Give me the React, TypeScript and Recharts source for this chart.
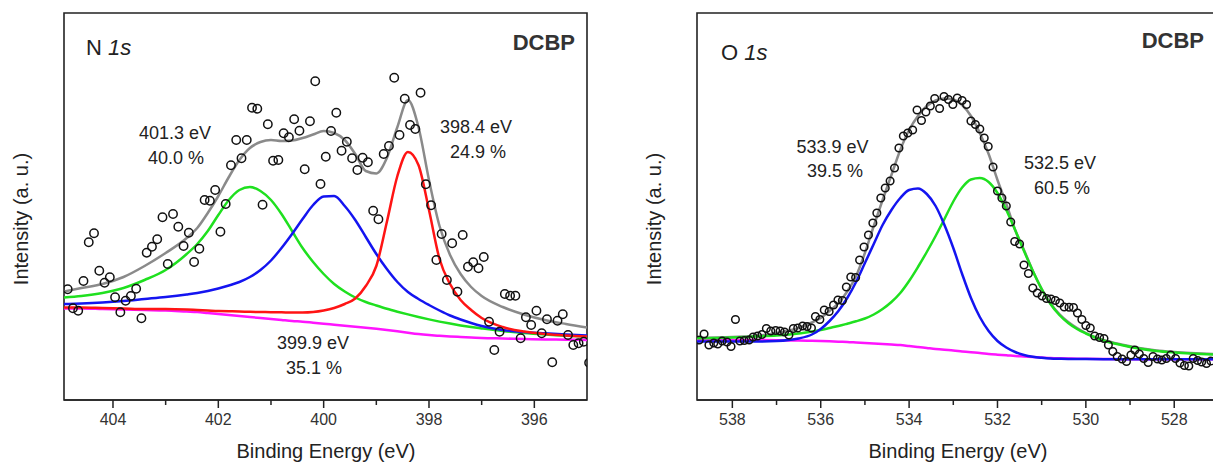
import React from 'react';
import { ComposedChart, Line, Scatter, XAxis, YAxis, ReferenceArea } from 'recharts';

const FONT = "'Liberation Sans', Arial, Helvetica, sans-serif";
const AXIS = '#222';
const C_ENV = '#8a8a8a';
const C_GREEN = '#1fe01f';
const C_BLUE = '#1414f0';
const C_RED = '#ff1414';
const C_MAG = '#ff14ff';

// ---------------- N 1s ----------------
const n1sPointEnergy = [
  404.86, 404.76, 404.66, 404.56, 404.46, 404.36, 404.26, 404.16, 404.06, 403.96,
  403.86, 403.76, 403.66, 403.56, 403.46, 403.36, 403.26, 403.16, 403.06, 402.96,
  402.86, 402.76, 402.66, 402.56, 402.46, 402.36, 402.26, 402.16, 402.06, 401.96,
  401.86, 401.76, 401.66, 401.56, 401.46, 401.36, 401.26, 401.16, 401.06, 400.96,
  400.86, 400.76, 400.66, 400.56, 400.46, 400.36, 400.26, 400.16, 400.06, 399.96,
  399.86, 399.76, 399.66, 399.56, 399.46, 399.36, 399.26, 399.16, 399.06, 398.96,
  398.86, 398.76, 398.66, 398.56, 398.46, 398.36, 398.26, 398.16, 398.06, 397.96,
  397.86, 397.76, 397.66, 397.56, 397.46, 397.36, 397.26, 397.16, 397.06, 396.96,
  396.86, 396.76, 396.66, 396.56, 396.46, 396.36, 396.26, 396.16, 396.06, 395.96,
  395.86, 395.76, 395.66, 395.56, 395.46, 395.36, 395.26, 395.16, 395.06, 394.96,
];
const n1sPointCounts = [
  110.7, 91.7, 89.3, 119, 157.7, 166.7, 129.3, 117.3, 122.7, 102.7,
  87.7, 99.3, 104, 111.3, 81.7, 147.3, 153.3, 160.7, 182.7, 136,
  186, 173.3, 154, 167.3, 138, 151.3, 200, 199.3, 210, 168.3,
  196, 234.7, 260, 241.7, 260, 292.3, 291.3, 195.3, 275.7, 239.3,
  240, 266.7, 262.7, 280.7, 269.3, 230.7, 278.7, 318.7, 216, 243.3,
  269, 287.3, 249.3, 258.3, 241.7, 230, 242.3, 237.7, 189.3, 180.7,
  246, 254, 322.3, 265, 301.3, 275, 271, 307.3, 215.7, 194.7,
  140, 166, 120, 156.7, 108.3, 165, 133.3, 137.7, 131.7, 143,
  78.3, 50, 68.3, 106, 104.3, 104.3, 61.7, 82.7, 75, 89.3,
  66.7, 80.7, 37.7, 79.3, 85.7, 65, 55, 56.7, 58.3, 37.3,
];
const n1sFitEnergy = [
  404.93, 404.6, 404.2, 403.8, 403.4, 403.0, 402.6, 402.4, 402.2, 402.0,
  401.8, 401.6, 401.4, 401.2, 401.0, 400.8, 400.6, 400.4, 400.2, 400.0,
  399.8, 399.6, 399.4, 399.2, 399.0, 398.8, 398.6, 398.4, 398.2, 398.0,
  397.8, 397.6, 397.4, 397.2, 397.0, 396.6, 396.2, 395.8, 395.4, 395.0,
];
const n1sEnvelope = [
  108.5, 112, 116, 123, 134, 147, 162, 172, 187, 204,
  223, 240, 252, 258, 260, 259, 259.5, 262, 265.5, 269,
  267, 260, 246, 229, 226.5, 242, 273, 300, 273, 220,
  174, 145, 126, 113, 104, 93, 85.5, 80, 76, 72.5,
];
const n1sPeak4013 = [
  102.5, 104, 107, 112, 120, 130, 146, 156, 169, 185,
  200, 210, 213, 209, 200, 186, 169, 152, 138, 126,
  116, 108.5, 102.5, 98, 94.5, 91.2, 88.3, 85.6, 83, 80.6,
  78.4, 76.4, 74.6, 73, 71.6, 69, 67, 65.5, 64.3, 63.5,
];
const n1sPeak3999 = [
  96, 96.5, 97.5, 99, 101, 103, 105.5, 107, 109, 111.5,
  114.5, 118, 123, 130, 139.5, 152, 166, 181, 195, 203.5,
  204, 194, 180, 163, 146, 131, 118, 108, 101, 95,
  89.5, 84.5, 80.5, 77, 74, 70, 68, 66.7, 65.5, 64.5,
];
const n1sPeak3984 = [
  92.5, 92.5, 92, 91.5, 91, 91, 90.5, 90, 89.5, 89,
  88.7, 88.5, 88.2, 88, 87.8, 87.7, 87.5, 87.5, 88, 89.5,
  92, 96, 101.5, 114, 134, 178, 224, 248, 235, 190,
  141, 116, 100, 90, 82, 73, 68.5, 66, 64.5, 63.5,
];
const n1sBackground = [
  91.5, 91.5, 91, 90.5, 90, 89.5, 88.5, 88, 87, 86,
  85, 84, 83, 82, 81, 80, 79, 78.3, 77.3, 76.3,
  75.3, 74.3, 73.3, 72.3, 71.2, 70, 68.7, 67.3, 66, 65,
  64.2, 63.5, 63, 62.5, 62, 61.5, 61, 60.5, 60.3, 60,
];
const n1sTicks = [396, 397, 398, 399, 400, 401, 402, 403, 404];

// ---------------- O 1s ----------------
const o1sPointEnergy = [
  538.75, 538.64, 538.53, 538.42, 538.33, 538.23, 538.12, 538.03, 537.93, 537.83,
  537.73, 537.62, 537.53, 537.43, 537.33, 537.23, 537.13, 537.02, 536.92, 536.82,
  536.72, 536.62, 536.52, 536.41, 536.31, 536.21, 536.12, 536.02, 535.92, 535.81,
  535.71, 535.61, 535.51, 535.42, 535.32, 535.21, 535.12, 535.02, 534.92, 534.82,
  534.73, 534.64, 534.54, 534.43, 534.33, 534.23, 534.13, 534.03, 533.92, 533.82,
  533.72, 533.62, 533.52, 533.42, 533.31, 533.21, 533.11, 533.01, 532.91, 532.8,
  532.7, 532.6, 532.5, 532.4, 532.3, 532.21, 532.1, 532.0, 531.9, 531.8,
  531.7, 531.61, 531.5, 531.4, 531.3, 531.2, 531.1, 530.99, 530.89, 530.79,
  530.69, 530.59, 530.49, 530.38, 530.28, 530.19, 530.09, 530.0, 529.9, 529.8,
  529.69, 529.59, 529.49, 529.39, 529.29, 529.18, 529.08, 528.98, 528.89, 528.79,
  528.69, 528.59, 528.48, 528.38, 528.28, 528.18, 528.08, 527.97, 527.87, 527.77,
  527.67, 527.57, 527.47, 527.38, 527.27, 527.17,
];
const o1sPointCounts = [
  60, 66, 55, 57, 56, 59, 58, 53.5, 80.5, 59,
  59.5, 60, 63, 64, 65.5, 71.5, 69, 69.5, 69, 68,
  65, 71.5, 72, 74, 73.5, 72, 83.5, 80.5, 90, 88.5,
  95, 100, 99.5, 113, 123, 122.5, 140, 153, 165, 177,
  187, 202, 212, 219, 232, 252, 264, 267, 270, 290,
  279.5, 288, 294, 301.5, 291.5, 303.5, 300.5, 295.5, 302, 299.5,
  295.5, 279, 275.5, 271, 262, 253.5, 233, 209, 202, 194,
  178, 158.5, 156, 135, 126.5, 112, 107, 104, 101.5, 101,
  99.5, 97, 93, 92.7, 92.5, 87, 80.5, 74.5, 72, 64,
  62.5, 61.5, 55, 48.5, 43.5, 41, 38.5, 45, 50, 46,
  41.5, 37.5, 43.5, 41, 40, 41.5, 45, 41.5, 37, 34.5,
  34, 41.5, 39.5, 38, 36.5, 39,
];
const o1sFitEnergy = [
  538.8, 538.0, 537.5, 537.0, 536.5, 536.2, 536.0, 535.8, 535.6, 535.4,
  535.2, 535.0, 534.8, 534.6, 534.4, 534.2, 534.0, 533.8, 533.6, 533.4,
  533.2, 533.0, 532.8, 532.6, 532.4, 532.2, 532.0, 531.8, 531.6, 531.4,
  531.2, 531.0, 530.8, 530.6, 530.4, 530.2, 530.0, 529.6, 529.2, 528.8,
  528.4, 528.0, 527.1,
];
const o1sEnvelope = [
  62, 63, 64, 67, 72, 77.5, 82, 89, 97, 108.5,
  124, 147, 174, 200, 225, 250, 270, 284, 294, 299.5,
  301.5, 300.5, 295, 284, 267, 246, 220, 196, 170, 150,
  129, 111, 96.5, 86, 78, 72, 67, 60, 55.5, 52,
  49.5, 48, 46,
];
const o1sPeak5325 = [
  61.7, 62.5, 63.5, 64.5, 66.5, 68.5, 70, 72, 74, 76.3,
  78.7, 81.5, 85.5, 91, 98, 107, 119, 133, 148, 164,
  181, 198.5, 212.5, 220.5, 222, 218, 207, 190, 170, 149,
  129, 111, 96, 85, 77, 71, 66.5, 59.5, 55, 51.5,
  49, 47.5, 45.5,
];
const o1sPeak5339 = [
  58.5, 58.5, 58.5, 59, 61.5, 65.5, 71, 79, 89, 102,
  118, 137, 156, 175, 190, 202, 210, 211.5, 206, 194,
  175, 152, 126, 102, 83, 69, 59, 52.5, 48, 45,
  43.2, 42.2, 41.5, 41.2, 41, 41, 40.9, 40.8, 40.7, 40.7,
  40.7, 40.7, 40.7,
];
const o1sBackground = [
  60, 60, 60, 59.8, 59.5, 59.2, 59, 58.7, 58.3, 58,
  57.5, 57, 56.5, 56, 55.5, 55, 54, 53, 52, 51,
  50.2, 49.5, 48.5, 47.7, 47, 46, 45.3, 44.7, 44, 43.5,
  43, 42.5, 42, 41.7, 41.5, 41.3, 41.2, 41, 40.8, 40.8,
  40.8, 40.8, 40.8,
];
const o1sTicks = [528, 529, 530, 531, 532, 533, 534, 535, 536, 537, 538];

const zip = (xs: number[], ys: number[]) => xs.map((E, i) => ({ E, I: ys[i] }));

const BottomTick = (props: any) => {
  const { x, y, payload } = props;
  const major = Math.round(payload.value) % 2 === 0;
  return (
    <g>
      <line x1={x} x2={x} y1={y} y2={y + (major ? 8 : 5)} stroke={AXIS} strokeWidth={1.5} />
      {major && (
        <text x={x} y={y + 25} textAnchor="middle" fontSize={16} fill="#333" fontFamily={FONT}>
          {payload.value}
        </text>
      )}
    </g>
  );
};

const makeCircle = (r: number) => (p: any) => (
  <circle cx={p.cx} cy={p.cy} r={r} fill="none" stroke="#111" strokeWidth={1.5} />
);

type Pt = { E: number; I: number };
type PanelProps = {
  left: number;
  width: number;
  marginLeft: number;
  marginRight: number;
  domain: [number, number];
  ticks: number[];
  points: Pt[];
  env: Pt[];
  greenPk: Pt[];
  bluePk: Pt[];
  redPk?: Pt[];
  bg: Pt[];
  r: number;
};

function Panel(p: PanelProps) {
  const lw = 2.5;
  return (
    <div style={{ position: 'absolute', left: p.left, top: 0 }}>
      <ComposedChart
        width={p.width}
        height={463}
        margin={{ top: 13, right: p.marginRight, left: p.marginLeft, bottom: 0 }}
      >
        <XAxis
          dataKey="E"
          type="number"
          domain={p.domain}
          reversed
          allowDataOverflow
          ticks={p.ticks}
          interval={0}
          tick={<BottomTick />}
          tickLine={false}
          tickSize={0}
          tickMargin={0}
          axisLine={{ stroke: AXIS, strokeWidth: 1.6 }}
          height={63}
        />
        <YAxis type="number" domain={[0, 387]} hide allowDataOverflow />
        <Line data={p.bg} dataKey="I" type="monotone" stroke={C_MAG} strokeWidth={lw} dot={false} isAnimationActive={false} />
        <Line data={p.env} dataKey="I" type="monotone" stroke={C_ENV} strokeWidth={lw} dot={false} isAnimationActive={false} />
        <Line data={p.greenPk} dataKey="I" type="monotone" stroke={C_GREEN} strokeWidth={lw} dot={false} isAnimationActive={false} />
        <Line data={p.bluePk} dataKey="I" type="monotone" stroke={C_BLUE} strokeWidth={lw} dot={false} isAnimationActive={false} />
        {p.redPk && (
          <Line data={p.redPk} dataKey="I" type="monotone" stroke={C_RED} strokeWidth={lw} dot={false} isAnimationActive={false} />
        )}
        <Scatter data={p.points} dataKey="I" shape={makeCircle(p.r)} isAnimationActive={false} />
        <ReferenceArea
          x1={p.domain[0]}
          x2={p.domain[1]}
          y1={0}
          y2={387}
          fill="none"
          fillOpacity={0}
          stroke={AXIS}
          strokeWidth={1.6}
          ifOverflow="visible"
        />
      </ComposedChart>
    </div>
  );
}

export default function App() {
  const txt = { fontFamily: FONT, fill: '#222' } as const;
  return (
    <div
      style={{
        position: 'absolute',
        left: 0,
        top: 0,
        width: 1213,
        height: 463,
        overflow: 'hidden',
        background: '#fff',
      }}
    >
      <Panel
        left={0}
        width={600}
        marginLeft={64}
        marginRight={13}
        domain={[395, 404.93]}
        ticks={n1sTicks}
        points={zip(n1sPointEnergy, n1sPointCounts)}
        env={zip(n1sFitEnergy, n1sEnvelope)}
        greenPk={zip(n1sFitEnergy, n1sPeak4013)}
        bluePk={zip(n1sFitEnergy, n1sPeak3999)}
        redPk={zip(n1sFitEnergy, n1sPeak3984)}
        bg={zip(n1sFitEnergy, n1sBackground)}
        r={4.2}
      />
      <Panel
        left={600}
        width={620}
        marginLeft={97}
        marginRight={6}
        domain={[527.1, 538.8]}
        ticks={o1sTicks}
        points={zip(o1sPointEnergy, o1sPointCounts)}
        env={zip(o1sFitEnergy, o1sEnvelope)}
        greenPk={zip(o1sFitEnergy, o1sPeak5325)}
        bluePk={zip(o1sFitEnergy, o1sPeak5339)}
        bg={zip(o1sFitEnergy, o1sBackground)}
        r={3.8}
      />
      <svg
        width={1213}
        height={463}
        style={{ position: 'absolute', left: 0, top: 0, pointerEvents: 'none' }}
      >
        {/* N 1s panel */}
        <text x={86} y={55} fontSize={22} {...txt}>
          N <tspan fontStyle="italic">1s</tspan>
        </text>
        <text x={575} y={50} fontSize={22} fontWeight="bold" textAnchor="end" {...txt} fill="#333">
          DCBP
        </text>
        <text x={175} y={139} fontSize={18} textAnchor="middle" {...txt}>401.3 eV</text>
        <text x={176} y={164} fontSize={18} textAnchor="middle" {...txt}>40.0 %</text>
        <text x={476} y={133} fontSize={18} textAnchor="middle" {...txt}>398.4 eV</text>
        <text x={478} y={158} fontSize={18} textAnchor="middle" {...txt}>24.9 %</text>
        <text x={313} y={349} fontSize={18} textAnchor="middle" {...txt}>399.9 eV</text>
        <text x={314} y={374} fontSize={18} textAnchor="middle" {...txt}>35.1 %</text>
        <text x={27.5} y={219} fontSize={20} textAnchor="middle" transform="rotate(-90 27.5 219)" {...txt}>
          Intensity (a. u.)
        </text>
        <text x={326} y={458} fontSize={20} textAnchor="middle" {...txt}>Binding Energy (eV)</text>

        {/* O 1s panel */}
        <text x={721} y={60} fontSize={22} {...txt}>
          O <tspan fontStyle="italic">1s</tspan>
        </text>
        <text x={1204} y={47.5} fontSize={22} fontWeight="bold" textAnchor="end" {...txt} fill="#333">
          DCBP
        </text>
        <text x={832.5} y={153} fontSize={18} textAnchor="middle" {...txt}>533.9 eV</text>
        <text x={835} y={177} fontSize={18} textAnchor="middle" {...txt}>39.5 %</text>
        <text x={1060} y={169} fontSize={18} textAnchor="middle" {...txt}>532.5 eV</text>
        <text x={1062} y={194} fontSize={18} textAnchor="middle" {...txt}>60.5 %</text>
        <text x={661} y={219} fontSize={20} textAnchor="middle" transform="rotate(-90 661 219)" {...txt}>
          Intensity (a. u.)
        </text>
        <text x={958} y={458} fontSize={20} textAnchor="middle" {...txt}>Binding Energy (eV)</text>
      </svg>
    </div>
  );
}
